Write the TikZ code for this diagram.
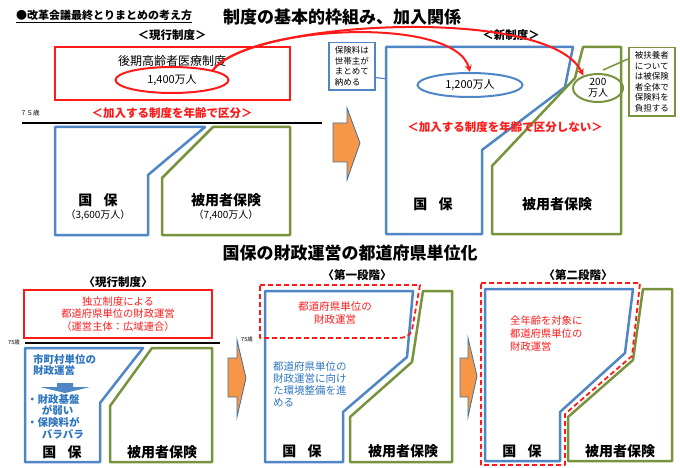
\documentclass[tikz,border=0pt]{standalone}
\usepackage{fontspec}
\setmainfont{Noto Sans CJK JP}
\usetikzlibrary{positioning,arrows.meta,shapes.geometric}

\definecolor{kred}{HTML}{FF1A1A}
\definecolor{kblue}{HTML}{4F86C6}
\definecolor{ktext}{HTML}{2E75C0}
\definecolor{kgreen}{HTML}{77933C}
\definecolor{korange}{HTML}{F79646}
\definecolor{kedge}{HTML}{41719C}

\begin{document}
\begin{tikzpicture}[
                    x=1pt, y=-1pt,
                    inner sep=0pt,
                    >={Stealth[length=7pt,width=7pt]},
                    redbox/.style={draw=kred, line width=2.5pt},
                    dashbox/.style={draw=kred, line width=1.8pt, dash pattern=on 5pt off 3pt, line join=round},
                    blueshape/.style={draw=kblue, line width=2.5pt, line join=round},
                    greenshape/.style={draw=kgreen, line width=2.5pt, line join=round},
                    bigarrow/.style={fill=korange, draw=kedge, line width=0.8pt},
                    titletext/.style={font=\bfseries\fontsize{17}{19}\selectfont},
                    tagtext/.style={font=\bfseries\fontsize{11.5}{13}\selectfont},
                    boxlabel/.style={font=\bfseries\fontsize{14}{16}\selectfont},
                    numtext/.style={font=\fontsize{10}{12}\selectfont},
                    redtext/.style={text=kred, font=\fontsize{10.5}{12.5}\selectfont},
                    bluetext/.style={text=ktext, font=\fontsize{10.5}{11.7}\selectfont, align=left},
                    notebox/.style={draw, line width=1.5pt, fill=white, align=left, inner xsep=6pt, inner ysep=4pt, font=\fontsize{8.5}{10.5}\selectfont},
                    agetext/.style={font=\fontsize{5.5}{6}\selectfont, anchor=west}
                    ]
    \useasboundingbox (0,0) rectangle (680,468);

    % upper half: framework
    \node [anchor=west, font=\bfseries\fontsize{11}{13}\selectfont] (kangae) at (16,16) {\underline{●改革会議最終とりまとめの考え方}};
    \node [titletext] (title1) at (342,17) {制度の基本的枠組み、加入関係};

    % current system
    \node [tagtext] (genko1) at (172,35) {＜現行制度＞};
    \draw [redbox] (55,47) rectangle (290,100);
    \node [font=\fontsize{12}{14}\selectfont] (kouki) at (172,61) {後期高齢者医療制度};
    \node [draw=kred, line width=2pt, ellipse, minimum width=113pt, minimum height=26pt, font=\fontsize{11}{13}\selectfont] (kouki-n) at (172,80) {1,400万人};
    \node [agetext, font=\fontsize{6.5}{7}\selectfont] (age1) at (20,113) {７５歳};
    \node [text=kred, font=\bfseries\fontsize{11.5}{13}\selectfont] (kubun1) at (172,113) {＜加入する制度を年齢で区分＞};
    \coordinate (line1a) at (22,123);
    \coordinate (line1b) at (322,123);
    \draw [line width=2.5pt] (line1a) -- (line1b);

    \draw [blueshape] (55,127) -- (205,127) -- (148,175) -- (148,235) -- (55,235) -- cycle;
    \draw [greenshape] (213,127) -- (290,127) -- (290,235) -- (162,235) -- (162,178) -- cycle;
    \node [boxlabel] (kokuho1) at (98,200) {国\hspace{0.8em}保};
    \node [numtext, below=3pt of kokuho1] (kokuho1-n) {（3,600万人）};
    \node [boxlabel] (hiyo1) at (226,200) {被用者保険};
    \node [numtext, below=3pt of hiyo1] (hiyo1-n) {（7,400万人）};

    \draw [bigarrow] (333,123) -- (347,123) -- (347,108) -- (360,143) -- (347,180) -- (347,162) -- (333,162) -- cycle;

    % new system
    \node [tagtext] (shin) at (511,35) {＜新制度＞};
    \draw [blueshape] (386,47) -- (573,47) -- (565,87) -- (482,150) -- (482,234) -- (386,234) -- cycle;
    \draw [greenshape] (583,47) -- (621,47) -- (621,234) -- (492,234) -- (492,166) -- (575,78) -- cycle;
    \node [draw=kblue, line width=2pt, ellipse, minimum width=105pt, minimum height=24pt, font=\fontsize{11}{13}\selectfont] (ippan) at (470,85) {1,200万人};
    \node [draw=kgreen, line width=2pt, ellipse, minimum width=50pt, minimum height=28pt, align=center, font=\fontsize{10}{11}\selectfont] (hifu) at (598,88) {200\\万人};
    \node [text=kred, font=\bfseries\fontsize{11.5}{13}\selectfont] (kubun2) at (505,127) {＜加入する制度を年齢で区分しない＞};
    \node [boxlabel] (kokuho2) at (433,204) {国\hspace{0.8em}保};
    \node [boxlabel] (hiyo2) at (557,204) {被用者保険};

    \node [notebox, draw=kblue, anchor=north west] (setai) at (328,42) {保険料は\\世帯主が\\まとめて\\納める};
    \coordinate (setai-end) at (387,79);
    \draw [kblue, line width=1.2pt] (setai.-25) -- (setai-end);
    \node [notebox, draw=kgreen, anchor=north west] (fuyo) at (628,47) {被扶養者\\について\\は被保険\\者全体で\\保険料を\\負担する};
    \coordinate (fuyo-end) at (603,70);
    \draw [kgreen, line width=1.5pt] ([yshift=-12pt]fuyo.north west) -- (fuyo-end);

    \coordinate (kouki-out) at (213,70);
    \draw [kred, line width=2pt, ->] (kouki-out) .. controls (250,25) and (455,15) .. (ippan.north);
    \draw [kred, line width=2pt, ->] (kouki-out) .. controls (250,20) and (550,5) .. (hifu.140);

    % lower half: prefecture based finance
    \node [titletext] (title2) at (350,253) {国保の財政運営の都道府県単位化};

    \node [tagtext] (genko2) at (118,282) {〈現行制度〉};
    \draw [redbox] (24,290) rectangle (212,338);
    \node [redtext, align=center, font=\fontsize{10.3}{12.5}\selectfont] (dokuritsu) at (118,314) {独立制度による\\都道府県単位の財政運営\\（運営主体：広域連合）};
    \node [agetext] (age2) at (8,342) {75歳};
    \coordinate (line2a) at (25,343);
    \coordinate (line2b) at (220,343);
    \draw [line width=2pt] (line2a) -- (line2b);
    \draw [blueshape] (25,348) -- (143,348) -- (100,403) -- (100,462) -- (25,462) -- cycle;
    \draw [greenshape] (152,348) -- (212,348) -- (212,462) -- (110,462) -- (110,406) -- cycle;
    \node [bluetext, font=\bfseries\fontsize{10.5}{11.7}\selectfont, anchor=north west] (shichoson) at (33,354) {市町村単位の\\財政運営};
    \draw [fill=kblue, draw=none] (57,383) -- (73,383) -- (73,387) -- (90,387) -- (65,393) -- (40,387) -- (57,387) -- cycle;
    \node [bluetext, font=\bfseries\fontsize{10.5}{11.7}\selectfont, anchor=north west] (mondai) at (27,394) {・財政基盤\\\hspace{1.4em}が弱い\\・保険料が\\\hspace{1.4em}バラバラ};
    \node [boxlabel] (kokuho3) at (62,452) {国\hspace{0.8em}保};
    \node [boxlabel] (hiyo3) at (162,452) {被用者保険};

    \draw [bigarrow] (228,358) -- (237,358) -- (237,340) -- (246,378) -- (237,417) -- (237,397) -- (228,397) -- cycle;

    % first stage
    \node [tagtext] (dai1) at (357,275) {〈第一段階〉};
    \draw [blueshape] (265,291) -- (413,291) -- (407,357) -- (343,412) -- (343,462) -- (265,462) -- cycle;
    \draw [greenshape] (423,291) -- (452,291) -- (452,462) -- (350,462) -- (350,417) -- (412,362) -- cycle;
    \draw [dashbox] (260,285) -- (420,285) -- (412,330) .. controls (410,336) and (405,338) .. (398,338) -- (260,338) -- cycle;
    \node [redtext, align=center] (todofuken1) at (335,313) {都道府県単位の\\財政運営};
    \node [agetext] (age3) at (241,339) {75歳};
    \node [bluetext, font=\fontsize{10.5}{12}\selectfont, anchor=north west] (kankyo) at (273,361) {都道府県単位の\\財政運営に向け\\た環境整備を進\\める};
    \node [boxlabel] (kokuho4) at (302,451) {国\hspace{0.8em}保};
    \node [boxlabel] (hiyo4) at (403,451) {被用者保険};

    \draw [bigarrow] (460,358) -- (468,358) -- (468,338) -- (477,376) -- (468,417) -- (468,397) -- (460,397) -- cycle;

    % second stage
    \node [tagtext] (dai2) at (578,275) {〈第二段階〉};
    \draw [blueshape] (485,289) -- (633,289) -- (625,353) -- (560,412) -- (560,461) -- (485,461) -- cycle;
    \draw [greenshape] (643,289) -- (672,289) -- (672,461) -- (568,461) -- (568,417) -- (633,360) -- cycle;
    \draw [dashbox] (481,283) -- (640,283) -- (632,356) -- (565,414) -- (565,465) -- (481,465) -- cycle;
    \node [redtext, align=left, font=\fontsize{10.3}{13}\selectfont, anchor=north west] (zennenrei) at (510,316) {全年齢を対象に\\都道府県単位の\\財政運営};
    \node [boxlabel] (kokuho5) at (522,451) {国\hspace{0.8em}保};
    \node [boxlabel] (hiyo5) at (620,451) {被用者保険};
\end{tikzpicture}
\end{document}
